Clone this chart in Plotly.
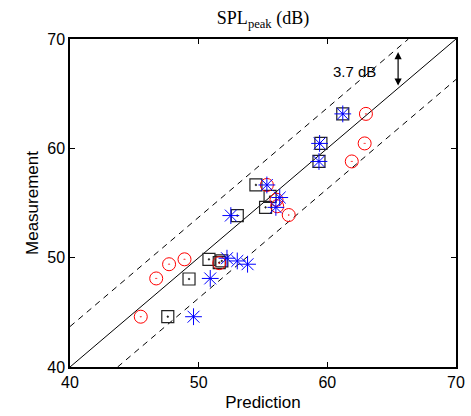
import plotly.graph_objects as go

# Data
circ_x = [63.0, 62.9, 61.9, 55.3, 56.05, 56.1, 57.0, 48.9, 47.7, 46.7, 51.6, 45.5]
circ_y = [63.15, 60.45, 58.8, 56.65, 55.3, 54.7, 53.9, 49.85, 49.4, 48.1, 49.5, 44.6]
sq_x = [61.2, 59.5, 59.35, 54.45, 55.55, 55.2, 53.0, 50.8, 51.6, 51.8, 49.25, 47.6]
sq_y = [63.15, 60.45, 58.8, 56.65, 55.6, 54.6, 53.85, 49.85, 49.55, 49.7, 48.05, 44.6]
st_x = [61.2, 59.4, 59.35, 55.3, 56.3, 56.0, 52.5, 52.2, 53.0, 53.8, 50.9, 49.6]
st_y = [63.15, 60.45, 58.8, 56.65, 55.5, 54.6, 53.85, 49.95, 49.7, 49.4, 48.1, 44.6]
offset = 3.7
lim = [40, 70]
ticks = [40, 50, 60, 70]
arrow_x = 65.5

fig = go.Figure()
# reference lines
fig.add_trace(go.Scatter(x=lim, y=lim, mode="lines",
                         line=dict(color="black", width=1), showlegend=False))
fig.add_trace(go.Scatter(x=[lim[0], lim[1] - offset], y=[lim[0] + offset, lim[1]], mode="lines",
                         line=dict(color="black", width=1, dash="6px,5px"), showlegend=False))
fig.add_trace(go.Scatter(x=[lim[0] + offset, lim[1]], y=[lim[0], lim[1] - offset], mode="lines",
                         line=dict(color="black", width=1, dash="6px,5px"), showlegend=False))

fig.add_trace(go.Scatter(x=sq_x, y=sq_y, mode="markers", showlegend=False,
                         marker=dict(symbol="square-open-dot", size=12, color="#222",
                                     line=dict(width=1.2, color="#222"))))
fig.add_trace(go.Scatter(x=circ_x, y=circ_y, mode="markers", showlegend=False,
                         marker=dict(symbol="circle-open-dot", size=13, color="red",
                                     line=dict(width=1, color="red"))))
fig.add_trace(go.Scatter(x=st_x, y=st_y, mode="markers", showlegend=False,
                         marker=dict(symbol="asterisk-open", size=14, color="blue",
                                     line=dict(width=1, color="blue"))))

fig.add_annotation(x=arrow_x, y=arrow_x + offset - 0.4, ax=arrow_x, ay=arrow_x + 0.1,
                   xref="x", yref="y", axref="x", ayref="y", text="",
                   showarrow=True, arrowhead=2, startarrowhead=2, arrowside="end+start",
                   arrowwidth=1.2, arrowsize=1.2, arrowcolor="black")
fig.add_annotation(x=62.1, y=67.0, xref="x", yref="y", text="3.7 dB", showarrow=False,
                   font=dict(family="Liberation Sans", size=15, color="black"))

axis_common = dict(range=lim, tickvals=ticks, ticks="inside", ticklen=5, tickwidth=1,
                   tickcolor="black", mirror="ticks", showline=True, linecolor="black",
                   linewidth=1.5, showgrid=False, zeroline=False, automargin=False,
                   tickfont=dict(family="Liberation Sans", size=16, color="black"))
fig.update_xaxes(**axis_common, title=dict(text="Prediction", standoff=6,
                 font=dict(family="Liberation Sans", size=17, color="black")))
fig.update_yaxes(**axis_common, title=dict(text="Measurement", standoff=4,
                 font=dict(family="Liberation Sans", size=17, color="black")))

fig.update_layout(
    width=471, height=416,
    margin=dict(l=70, r=15, t=39, b=49),
    plot_bgcolor="white", paper_bgcolor="white",
    title=dict(text="SPL<sub>peak</sub> (dB)", x=(70 + 456) / 2 / 471, xanchor="center",
               y=0.958, yanchor="middle",
               font=dict(family="Liberation Serif", size=18, color="black")),
)

fig.write_html("out.html", config={"displayModeBar": False},
               post_script="document.body.style.margin='0px';")
